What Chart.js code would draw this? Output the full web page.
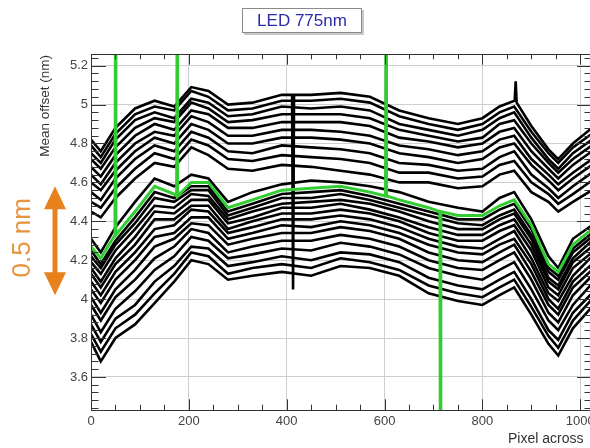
<!DOCTYPE html>
<html>
<head>
<meta charset="utf-8">
<script src="https://cdn.jsdelivr.net/npm/chart.js@4.4.1/dist/chart.umd.min.js"></script>
<style>
  html, body { margin: 0; padding: 0; background: #fff; overflow: hidden; }
  #wrap { position: relative; width: 590px; height: 448px; overflow: hidden; }
  #plot { position: absolute; left: 0; top: 0; }
  #title {
    position: absolute; left: 242px; top: 8px; width: 118px; height: 23px;
    border: 1px solid #8a8a8a; box-shadow: 2px 2px 0 #c8c8c8; background: #fff;
    font: 17px "Liberation Sans", Arial, sans-serif; color: #2c2ca8;
    text-align: center; line-height: 23px;
  }
</style>
</head>
<body>
<div id="wrap">
  <canvas id="plot" width="600" height="448"></canvas>
  <div id="title">LED 775nm</div>
</div>
<script>
// pixel positions shared by most curves
const pixel = [0, 20, 50, 90, 130, 170, 205, 240, 280, 330, 390, 450, 510, 570, 630, 690, 750, 800, 835, 865, 900, 935, 955, 985, 1024];

// top curve has its own samples (dead-pixel spikes at ~413 and ~868)
const topPixel = [0, 20, 50, 90, 130, 170, 205, 240, 280, 330, 390, 411, 413, 415, 450, 510, 570, 630, 690, 750, 800, 835, 866, 868, 870, 900, 935, 955, 985, 1024];
const u01 = [4.82, 4.76, 4.88, 4.98, 5.02, 4.99, 5.09, 5.07, 5.00, 5.01, 5.05, 5.05, 4.05, 5.05, 5.05, 5.06, 5.04, 4.97, 4.93, 4.90, 4.93, 4.99, 5.02, 5.12, 5.01, 4.89, 4.77, 4.72, 4.80, 4.88];

// upper family
const u02 = [4.79, 4.73, 4.85, 4.95, 4.99, 4.97, 5.07, 5.04, 4.97, 4.98, 5.02, 5.02, 5.03, 5.01, 4.94, 4.90, 4.87, 4.90, 4.96, 4.99, 4.86, 4.75, 4.70, 4.78, 4.85];
const u03 = [4.75, 4.70, 4.82, 4.92, 4.96, 4.93, 5.03, 5.01, 4.94, 4.95, 4.99, 4.98, 4.99, 4.97, 4.90, 4.87, 4.84, 4.87, 4.93, 4.96, 4.83, 4.72, 4.67, 4.75, 4.82];
const u04 = [4.72, 4.67, 4.78, 4.88, 4.93, 4.91, 5.01, 4.98, 4.91, 4.92, 4.95, 4.95, 4.95, 4.93, 4.87, 4.84, 4.81, 4.83, 4.90, 4.92, 4.80, 4.70, 4.65, 4.72, 4.79];
const u05 = [4.68, 4.63, 4.74, 4.84, 4.90, 4.87, 4.97, 4.95, 4.88, 4.88, 4.91, 4.91, 4.91, 4.89, 4.83, 4.81, 4.78, 4.80, 4.86, 4.88, 4.76, 4.67, 4.62, 4.69, 4.76];
const u06 = [4.64, 4.59, 4.70, 4.80, 4.86, 4.84, 4.94, 4.91, 4.84, 4.84, 4.87, 4.87, 4.86, 4.84, 4.79, 4.77, 4.74, 4.76, 4.82, 4.84, 4.72, 4.64, 4.59, 4.65, 4.72];
const u07 = [4.60, 4.56, 4.66, 4.76, 4.83, 4.80, 4.90, 4.87, 4.80, 4.80, 4.83, 4.83, 4.82, 4.80, 4.75, 4.73, 4.70, 4.72, 4.78, 4.80, 4.69, 4.61, 4.56, 4.62, 4.69];
const u08 = [4.55, 4.51, 4.62, 4.72, 4.79, 4.76, 4.86, 4.83, 4.76, 4.75, 4.79, 4.78, 4.77, 4.75, 4.70, 4.69, 4.66, 4.67, 4.73, 4.76, 4.64, 4.57, 4.52, 4.58, 4.65];
const u09 = [4.50, 4.47, 4.57, 4.67, 4.75, 4.72, 4.82, 4.79, 4.72, 4.71, 4.74, 4.73, 4.72, 4.70, 4.65, 4.65, 4.62, 4.63, 4.69, 4.71, 4.60, 4.54, 4.49, 4.54, 4.61];
const u10 = [4.45, 4.42, 4.52, 4.62, 4.70, 4.68, 4.78, 4.74, 4.67, 4.66, 4.69, 4.68, 4.66, 4.64, 4.60, 4.60, 4.57, 4.58, 4.64, 4.66, 4.55, 4.50, 4.45, 4.50, 4.56];

// lower family
const l01 = [4.31, 4.24, 4.37, 4.50, 4.62, 4.58, 4.64, 4.62, 4.50, 4.55, 4.59, 4.61, 4.60, 4.58, 4.55, 4.50, 4.47, 4.45, 4.52, 4.55, 4.41, 4.22, 4.16, 4.31, 4.38];
const l02 = [4.25, 4.18, 4.30, 4.42, 4.55, 4.52, 4.58, 4.58, 4.45, 4.49, 4.54, 4.55, 4.56, 4.53, 4.49, 4.45, 4.41, 4.41, 4.46, 4.49, 4.36, 4.16, 4.12, 4.26, 4.34];
const l03 = [4.22, 4.16, 4.28, 4.39, 4.52, 4.50, 4.56, 4.56, 4.43, 4.47, 4.52, 4.52, 4.54, 4.51, 4.47, 4.43, 4.39, 4.38, 4.43, 4.46, 4.33, 4.14, 4.10, 4.24, 4.32];
const l04 = [4.19, 4.13, 4.25, 4.36, 4.48, 4.47, 4.54, 4.53, 4.41, 4.45, 4.49, 4.50, 4.51, 4.49, 4.45, 4.40, 4.36, 4.36, 4.41, 4.44, 4.31, 4.11, 4.07, 4.21, 4.30];
const l05 = [4.16, 4.09, 4.21, 4.32, 4.45, 4.44, 4.51, 4.51, 4.39, 4.42, 4.47, 4.47, 4.49, 4.46, 4.42, 4.37, 4.33, 4.33, 4.38, 4.41, 4.28, 4.09, 4.05, 4.19, 4.27];
const l06 = [4.13, 4.06, 4.18, 4.28, 4.41, 4.41, 4.48, 4.48, 4.36, 4.40, 4.44, 4.44, 4.46, 4.44, 4.40, 4.34, 4.30, 4.30, 4.35, 4.38, 4.25, 4.06, 4.02, 4.16, 4.24];
const l07 = [4.09, 4.02, 4.14, 4.24, 4.36, 4.38, 4.46, 4.45, 4.34, 4.37, 4.41, 4.41, 4.43, 4.41, 4.37, 4.31, 4.27, 4.26, 4.31, 4.35, 4.21, 4.03, 3.99, 4.12, 4.22];
const l08 = [4.05, 3.98, 4.10, 4.20, 4.32, 4.34, 4.42, 4.42, 4.31, 4.34, 4.38, 4.37, 4.40, 4.38, 4.34, 4.28, 4.24, 4.23, 4.28, 4.31, 4.18, 4.00, 3.95, 4.09, 4.18];
const l09 = [4.01, 3.93, 4.05, 4.15, 4.27, 4.31, 4.39, 4.38, 4.28, 4.31, 4.34, 4.34, 4.37, 4.35, 4.31, 4.24, 4.20, 4.19, 4.24, 4.28, 4.14, 3.97, 3.92, 4.06, 4.15];
const l10 = [3.97, 3.89, 4.01, 4.10, 4.21, 4.27, 4.36, 4.34, 4.24, 4.27, 4.30, 4.30, 4.33, 4.31, 4.27, 4.20, 4.16, 4.15, 4.20, 4.24, 4.10, 3.93, 3.88, 4.02, 4.12];
const l11 = [3.92, 3.83, 3.95, 4.04, 4.15, 4.22, 4.32, 4.30, 4.21, 4.23, 4.26, 4.25, 4.29, 4.27, 4.23, 4.16, 4.12, 4.10, 4.15, 4.19, 4.05, 3.89, 3.84, 3.97, 4.08];
const l12 = [3.87, 3.78, 3.90, 3.97, 4.09, 4.17, 4.27, 4.26, 4.17, 4.19, 4.22, 4.20, 4.24, 4.23, 4.19, 4.11, 4.07, 4.05, 4.10, 4.14, 4.00, 3.84, 3.79, 3.93, 4.03];
const l13 = [3.82, 3.73, 3.85, 3.92, 4.03, 4.13, 4.24, 4.22, 4.13, 4.16, 4.18, 4.16, 4.21, 4.19, 4.15, 4.07, 4.03, 4.01, 4.06, 4.10, 3.96, 3.81, 3.75, 3.89, 4.00];
const l14 = [3.78, 3.68, 3.80, 3.87, 3.98, 4.09, 4.20, 4.18, 4.10, 4.12, 4.14, 4.12, 4.17, 4.16, 4.12, 4.03, 3.99, 3.97, 4.02, 4.06, 3.92, 3.77, 3.71, 3.85, 3.96];

// highlighted (green) channel, with its bad-pixel spikes
const greenPixel = [0, 20, 49, 50, 51, 90, 130, 170, 175, 176, 177, 205, 240, 280, 330, 390, 450, 510, 570, 602, 603, 604, 630, 690, 713, 714, 715, 750, 800, 835, 865, 900, 935, 955, 985, 1024];
const green = [4.27, 4.21, 4.33, 5.5, 4.33, 4.45, 4.58, 4.54, 4.53, 5.5, 4.53, 4.60, 4.60, 4.47, 4.51, 4.56, 4.57, 4.58, 4.55, 4.53, 5.5, 4.53, 4.51, 4.47, 4.45, 3.2, 4.45, 4.43, 4.43, 4.48, 4.51, 4.38, 4.18, 4.14, 4.28, 4.36];

// the orange "0.5 nm" marker, in y units
const arrowTop = 4.58;
const arrowBottom = 4.02;

const blackCurves = [
  [topPixel, u01], [pixel, u02], [pixel, u03], [pixel, u04], [pixel, u05],
  [pixel, u06], [pixel, u07], [pixel, u08], [pixel, u09], [pixel, u10],
  [pixel, l01], [pixel, l02], [pixel, l03], [pixel, l04], [pixel, l05],
  [pixel, l06], [pixel, l07], [pixel, l08], [pixel, l09], [pixel, l10],
  [pixel, l11], [pixel, l12], [pixel, l13], [pixel, l14]
];

const toPoints = (xs, ys) => xs.map((x, i) => ({ x: x, y: ys[i] }));
const isMajor = (v, step) => Math.abs(v / step - Math.round(v / step)) < 1e-6;
const FONT = '"Liberation Sans", Arial, sans-serif';

const datasets = blackCurves.map(([xs, ys]) => ({
  data: toPoints(xs, ys),
  borderColor: "#000",
  borderWidth: 2.6,
  pointRadius: 0,
  tension: 0,
  order: 1,
  clip: 0,
}));
datasets.push({
  data: toPoints(greenPixel, green),
  borderColor: "#33cc33",
  borderWidth: 3,
  pointRadius: 0,
  tension: 0,
  order: 0,
  clip: 0,
});

// ROOT style frame with inward ticks on all four sides
const rootFrame = {
  id: "rootFrame",
  afterDatasetsDraw(chart) {
    const { ctx, chartArea: a, scales } = chart;
    const x = scales.x, y = scales.y;
    ctx.save();
    ctx.strokeStyle = "#333";
    ctx.lineWidth = 1;
    ctx.beginPath();
    y.ticks.forEach((t) => {
      const py = Math.round(y.getPixelForValue(t.value)) + 0.5;
      const len = isMajor(t.value, 0.2) ? 15 : 7.5;
      ctx.moveTo(a.left, py); ctx.lineTo(a.left + len, py);
      ctx.moveTo(a.right, py); ctx.lineTo(a.right - len, py);
    });
    x.ticks.forEach((t) => {
      const px = Math.round(x.getPixelForValue(t.value)) + 0.5;
      const len = isMajor(t.value, 200) ? 10.7 : 5.3;
      ctx.moveTo(px, a.bottom); ctx.lineTo(px, a.bottom - len);
      ctx.moveTo(px, a.top); ctx.lineTo(px, a.top + len);
    });
    ctx.stroke();
    ctx.strokeRect(a.left + 0.5, a.top + 0.5, a.right - a.left, a.bottom - a.top);
    ctx.restore();
  },
  afterDraw(chart) {
    const { ctx, scales } = chart;
    const y = scales.y;
    ctx.save();
    // axis titles
    ctx.fillStyle = "#333";
    ctx.font = "13.5px " + FONT;
    ctx.translate(45, 55);
    ctx.rotate(-Math.PI / 2);
    ctx.textAlign = "right";
    ctx.textBaseline = "middle";
    ctx.fillText("Mean offset (nm)", 0, 0);
    ctx.setTransform(1, 0, 0, 1, 0, 0);
    ctx.font = "14px " + FONT;
    ctx.textAlign = "left";
    ctx.fillText("Pixel across", 508, 439);

    // orange double arrow
    const ax = 55;
    const yt = y.getPixelForValue(arrowTop);
    const yb = y.getPixelForValue(arrowBottom);
    ctx.fillStyle = "#e8801c";
    ctx.strokeStyle = "#e8801c";
    ctx.lineWidth = 5;
    ctx.beginPath();
    ctx.moveTo(ax, yt + 18); ctx.lineTo(ax, yb - 18);
    ctx.stroke();
    ctx.beginPath();
    ctx.moveTo(ax, yt); ctx.lineTo(ax - 11, yt + 23); ctx.lineTo(ax + 11, yt + 23); ctx.closePath();
    ctx.moveTo(ax, yb); ctx.lineTo(ax - 11, yb - 23); ctx.lineTo(ax + 11, yb - 23); ctx.closePath();
    ctx.fill();

    ctx.fillStyle = "#e8943e";
    ctx.font = "26px " + FONT;
    ctx.translate(23, (yt + yb) / 2 - 3);
    ctx.rotate(-Math.PI / 2);
    ctx.textAlign = "center";
    ctx.textBaseline = "middle";
    ctx.fillText("0.5 nm", 0, 0);
    ctx.restore();
  },
};

new Chart(document.getElementById("plot"), {
  type: "line",
  data: { datasets: datasets },
  plugins: [rootFrame],
  options: {
    responsive: false,
    animation: false,
    events: [],
    layout: { padding: { left: 0, top: 54, right: 8, bottom: 0 } },
    plugins: { legend: { display: false }, tooltip: { enabled: false } },
    scales: {
      x: {
        type: "linear",
        min: 0,
        max: 1024,
        afterFit(s) { s.height = 38; s.paddingLeft = 0; s.paddingRight = 0; },
        border: { display: false },
        grid: {
          drawTicks: false,
          color: (c) => (c.tick && isMajor(c.tick.value, 200) && c.tick.value > 0 ? "#cfcfcf" : "rgba(0,0,0,0)"),
        },
        ticks: {
          stepSize: 50,
          includeBounds: false,
          autoSkip: false,
          maxRotation: 0,
          padding: 4,
          color: "#444",
          font: { family: FONT, size: 13 },
          callback: (v) => (isMajor(v, 200) ? String(v) : ""),
        },
      },
      y: {
        min: 3.43,
        max: 5.26,
        afterFit(s) { s.width = 91; },
        border: { display: false },
        grid: {
          drawTicks: false,
          color: (c) => (c.tick && isMajor(c.tick.value, 0.2) ? "#cfcfcf" : "rgba(0,0,0,0)"),
        },
        ticks: {
          stepSize: 0.04,
          includeBounds: false,
          autoSkip: false,
          padding: 3,
          color: "#444",
          font: { family: FONT, size: 13 },
          callback: (v) => (isMajor(v, 0.2) ? String(+v.toFixed(1)) : ""),
        },
      },
    },
  },
});
</script>
</body>
</html>
